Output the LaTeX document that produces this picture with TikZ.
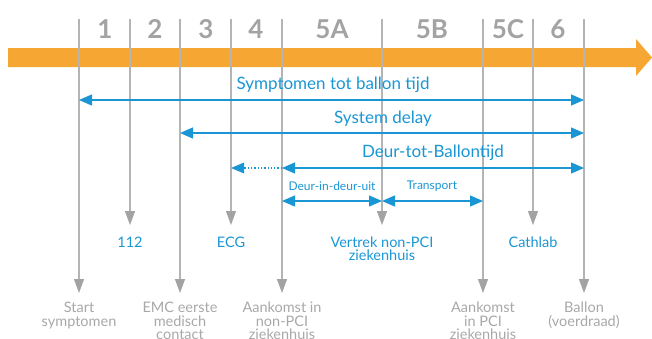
\documentclass[tikz,border=0pt]{standalone}
\usepackage{fontspec}
\setmainfont{Lato}
\usetikzlibrary{arrows.meta}
\definecolor{barorange}{HTML}{F6A633}
\definecolor{tlblue}{HTML}{1A96D4}
\definecolor{lineg}{HTML}{B4B4B4}
\definecolor{headg}{HTML}{A3A3A3}
\definecolor{textg}{HTML}{A8A8A8}
\tikzset{
  tick/.style={draw=lineg, line width=1.1pt},
  tickarrow/.style={tick, -{Triangle[length=14pt,width=10pt,fill=headg,color=headg]}},
  span/.style={draw=tlblue, line width=1.3pt, {Triangle[length=13pt,width=11pt]}-{Triangle[length=13pt,width=11pt]}},
  phase/.style={text=headg, font=\fontsize{26}{26}\selectfont\bfseries, inner sep=0pt},
  spanlbl/.style={text=tlblue, font=\fontsize{17}{17}\selectfont, inner sep=0pt},
  smalllbl/.style={text=tlblue, font=\fontsize{12}{12}\selectfont, inner sep=0pt},
  eventlbl/.style={text=tlblue, font=\fontsize{14.5}{13}\selectfont, align=center, inner sep=0pt, anchor=north},
  milestone/.style={text=textg, font=\fontsize{14.5}{13.5}\selectfont, align=center, inner sep=0pt, anchor=north},
}
\begin{document}
\begin{tikzpicture}[x=1pt,y=-1pt]
\useasboundingbox (0,0) rectangle (652,338);

% timeline bar
\fill[barorange] (8,48) -- (636,48) -- (636,39) -- (652,57.5) -- (636,76) -- (636,67) -- (8,67) -- cycle;

% phase numbers
\node[phase] (p1)  at (105,29) {1};
\node[phase] (p2)  at (155,29) {2};
\node[phase] (p3)  at (206,29) {3};
\node[phase] (p4)  at (256,29) {4};
\node[phase] (p5a) at (332,29) {5A};
\node[phase] (p5b) at (432,29) {5B};
\node[phase] (p5c) at (508,29) {5C};
\node[phase] (p6)  at (558,29) {6};

% tick tops
\foreach \n/\x in {a/79,b/130,c/180,d/231,e/282,f/382,g/483,h/533,i/584}
  \coordinate (top-\n) at (\x,19);

% milestone labels (below long ticks)
\node[milestone] (m-a) at (79,302)  {Start\\symptomen};
\node[milestone] (m-c) at (180,302) {EMC eerste\\medisch\\contact};
\node[milestone] (m-e) at (282,302) {Aankomst in\\non-PCI\\ziekenhuis};
\node[milestone] (m-g) at (483,302) {Aankomst\\in PCI\\ziekenhuis};
\node[milestone] (m-i) at (584,302) {Ballon\\(voerdraad)};

% event labels (below short ticks)
\node[eventlbl] (ev-b) at (130,237) {112};
\node[eventlbl] (ev-d) at (231,237) {ECG};
\node[eventlbl] (ev-f) at (382,237) {Vertrek non-PCI\\ziekenhuis};
\node[eventlbl] (ev-h) at (533,237) {Cathlab};

% ticks
\foreach \n in {a,c,e,g,i}
  \draw[tickarrow] (top-\n) -- ([yshift=9pt]m-\n.north);
\foreach \n in {b,d,f,h}
  \draw[tickarrow] (top-\n) -- ([yshift=12pt]ev-\n.north);

% span arrows
\coordinate (s1l) at (79,100);  \coordinate (s1r) at (584,100);
\coordinate (s2l) at (180,133); \coordinate (s2r) at (584,133);
\coordinate (s3d) at (231,168); \coordinate (s3l) at (282,168); \coordinate (s3r) at (584,168);
\coordinate (s4l) at (282,201); \coordinate (s4m) at (382,201); \coordinate (s4r) at (483,201);

\draw[span] (s1l) -- (s1r);
\node[spanlbl] (l1) at (333,85) {Symptomen tot ballon tijd};
\draw[span] (s2l) -- (s2r);
\node[spanlbl] (l2) at (383,119) {System delay};
\draw[span] (s3l) -- (s3r);
\draw[tlblue, line width=1.3pt, dotted] (s3l) -- ([xshift=13pt]s3d);
\fill[tlblue] (s3d) -- ++(13,-5.5) -- ++(0,11) -- cycle;
\node[spanlbl] (l3) at (433,153) {Deur-tot-Ballontijd};
\draw[span] (s4l) -- (s4m);
\node[smalllbl] (l4) at (332,186) {Deur-in-deur-uit};
\draw[span] (s4m) -- (s4r);
\node[smalllbl] (l5) at (432,186) {Transport};
\end{tikzpicture}
\end{document}
